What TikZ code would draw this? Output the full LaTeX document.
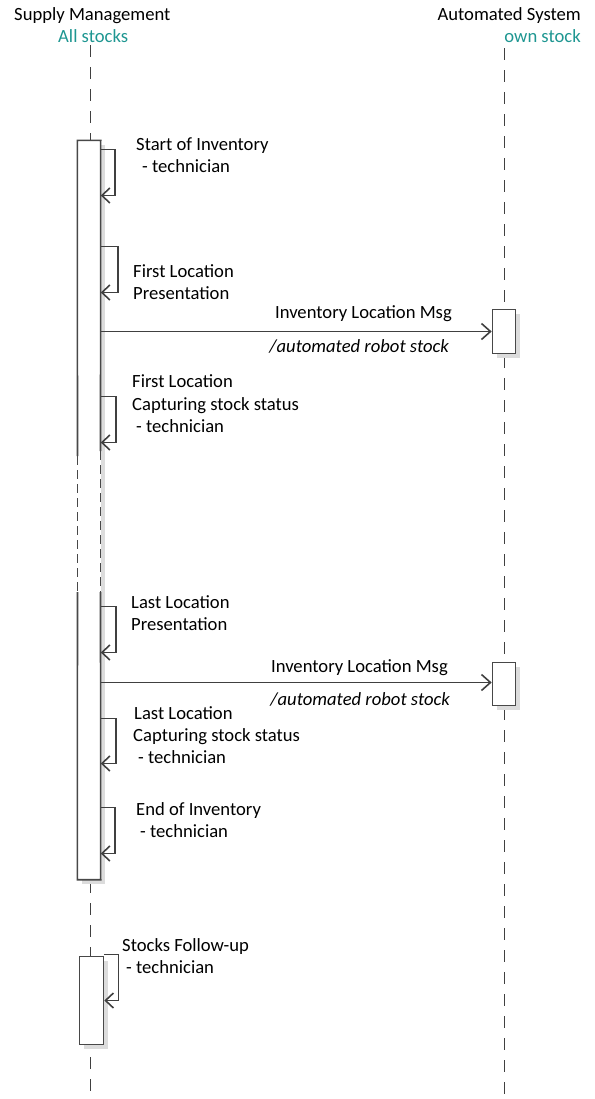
\documentclass[tikz,border=0pt]{standalone}
\usepackage{fontspec}
\setmainfont{Carlito}
\usetikzlibrary{arrows.meta}
\definecolor{ln}{HTML}{404040}
\definecolor{bx}{HTML}{484848}
\definecolor{shd}{HTML}{DCDCDC}
\definecolor{tealtxt}{RGB}{30,150,145}
\begin{document}
\begin{tikzpicture}[x=1bp,y=-1bp,
  font=\fontsize{18.7}{22}\selectfont,
  txt/.style={inner sep=0pt, anchor=base west},
  txtr/.style={inner sep=0pt, anchor=base east},
  lifeline/.style={draw=ln, line width=1.6bp, dash pattern=on 12bp off 10bp},
  actbox/.style={fill=white, inner sep=0pt},
  boxline/.style={draw=bx, line width=1.6bp},
  breakline/.style={draw=bx, line width=1.6bp, dash pattern=on 9bp off 5bp},
  selfmsg/.style={draw=ln, line width=1.6bp, -{Straight Barb[length=8bp,width=15bp]}},
  msg/.style={draw=ln, line width=1.6bp, -{Straight Barb[length=9bp,width=16bp]}},
]
\useasboundingbox (0,0) rectangle (595,1099);

% headers
\node[txt] (sm) at (14,20) {Supply Management};
\node[txt, text=tealtxt] (as) at (58,42) {All stocks};
\node[txtr] (asys) at (581,20) {Automated System};
\node[txtr, text=tealtxt] (os) at (581,42) {own stock};

% lifelines
\coordinate (La) at (90.5,45);
\coordinate (Lb) at (90.5,1095);
\coordinate (Ra) at (504.5,48);
\coordinate (Rb) at (504.5,1095);
\draw[lifeline] (La) -- (Lb);
\draw[lifeline] (Ra) -- (Rb);

% shadows
\fill[shd] (81.5,144.5) rectangle (104.5,883.5);
\fill[shd] (496.5,313.5) rectangle (519.5,357.5);
\fill[shd] (496.5,666.5) rectangle (519.5,709.5);
\fill[shd] (83.5,960.5) rectangle (107.5,1048.5);

% activation boxes
\node[actbox, minimum width=23bp, minimum height=739bp] (A1) at (89,510) {};
\node[actbox, draw=bx, line width=1.6bp, minimum width=23bp, minimum height=44bp] (B1) at (504,331.5) {};
\node[actbox, draw=bx, line width=1.6bp, minimum width=23bp, minimum height=43bp] (B2) at (504,684) {};
\node[actbox, draw=bx, line width=1.6bp, minimum width=24bp, minimum height=88bp] (A2) at (91.5,1000.5) {};

\coordinate (bwt) at (77.5,456);
\coordinate (bwb) at (77.5,592);
\coordinate (bet) at (100.5,451);
\coordinate (beb) at (100.5,592);
\draw[boxline] (bwt) -- (A1.north west) -- (A1.north east) -- (bet);
\draw[boxline] (bwb) -- (A1.south west) -- (A1.south east) -- (beb);
\draw[breakline] (bwt) -- (bwb);
\draw[breakline] (bet) -- (beb);

% self messages
\draw[selfmsg] (A1.east |- 0,149.5) -- ++(14,0) |- (A1.east |- 0,195.5);
\draw[selfmsg] (A1.east |- 0,246.5) -- ++(17,0) |- (A1.east |- 0,292.5);
\draw[selfmsg] (A1.east |- 0,396.5) -- ++(15,0) |- (A1.east |- 0,442.5);
\draw[selfmsg] (A1.east |- 0,606.5) -- ++(15,0) |- (A1.east |- 0,652.5);
\draw[selfmsg] (A1.east |- 0,718.5) -- ++(15,0) |- (A1.east |- 0,763.5);
\draw[selfmsg] (A1.east |- 0,807.5) -- ++(14,0) |- (A1.east |- 0,853.5);
\draw[selfmsg] (A2.east |- 0,954.5) -- ++(14,0) |- (A2.east |- 0,1000.5);

% messages
\draw[msg] (A1.east |- B1.west) -- (B1.west);
\draw[msg] (A1.east |- 0,682.5) -- (B2.west |- 0,682.5);

% labels
\node[txt] (t1a) at (136,150) {Start of Inventory};
\node[txt] (t1b) at (142,172) {- technician};
\node[txt] (t2a) at (133,277) {First Location};
\node[txt] (t2b) at (133,299) {Presentation};
\node[txtr] (m1a) at (452,318) {Inventory Location Msg};
\node[txtr] (m1b) at (449,352) {\itshape /automated robot stock};
\node[txt] (t3a) at (132,387) {First Location};
\node[txt] (t3b) at (132,410) {Capturing stock status};
\node[txt] (t3c) at (136,432) {- technician};
\node[txt] (t4a) at (131,608) {Last Location};
\node[txt] (t4b) at (131,630) {Presentation};
\node[txtr] (m2a) at (448,672) {Inventory Location Msg};
\node[txtr] (m2b) at (450,705) {\itshape /automated robot stock};
\node[txt] (t5a) at (134,719) {Last Location};
\node[txt] (t5b) at (133,741) {Capturing stock status};
\node[txt] (t5c) at (138,763) {- technician};
\node[txt] (t6a) at (136,815) {End of Inventory};
\node[txt] (t6b) at (140,837) {- technician};
\node[txt] (t7a) at (122,951) {Stocks Follow-up};
\node[txt] (t7b) at (126,973) {- technician};
\end{tikzpicture}
\end{document}
